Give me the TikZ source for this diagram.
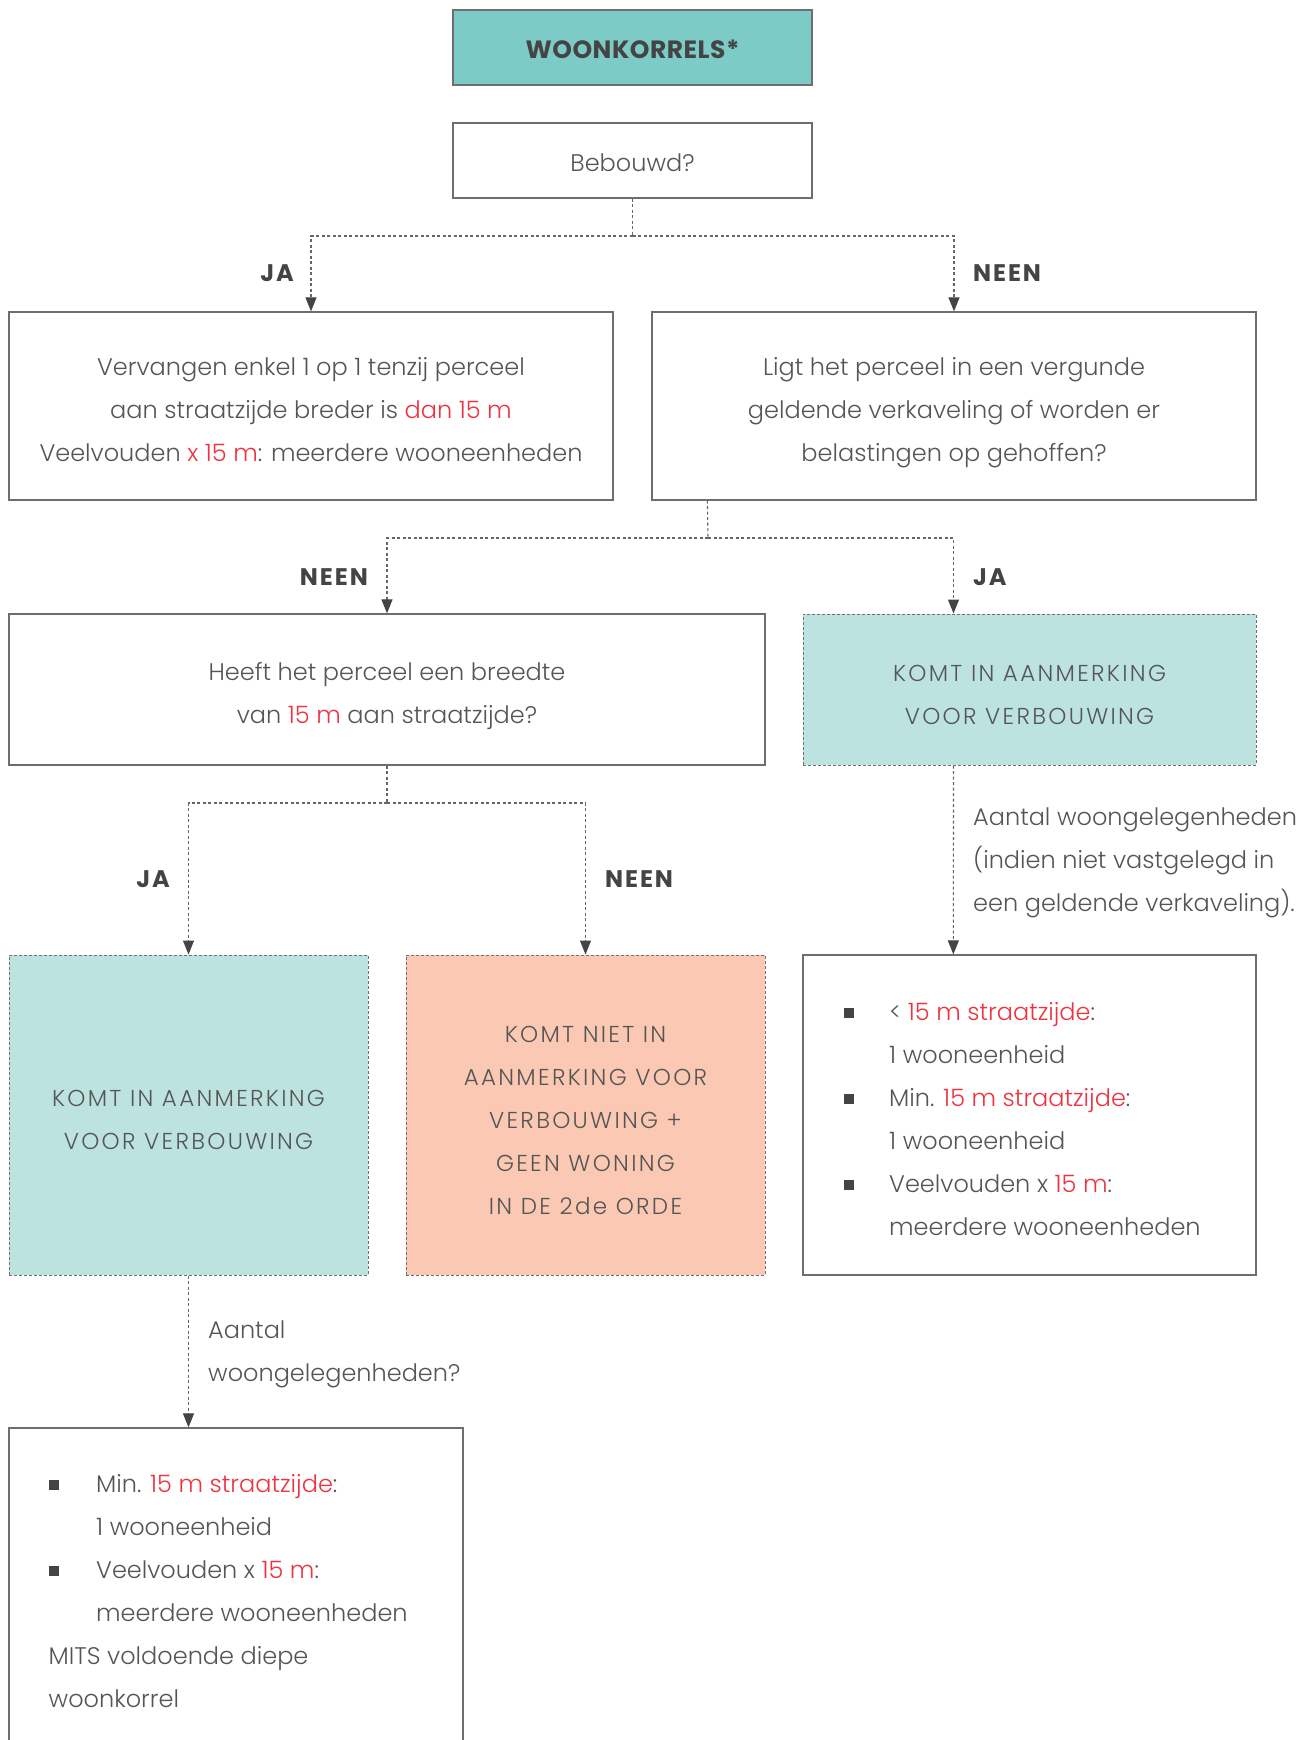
\documentclass[tikz,border=0pt]{standalone}
\usepackage{fontspec}
\IfFontExistsTF{Poppins Light}{\setmainfont{Poppins Light}}{\setmainfont{Poppins}}
\newfontfamily\labf{Poppins}
\usetikzlibrary{arrows.meta,calc}
\definecolor{tgray}{HTML}{555555}
\definecolor{lgray}{HTML}{444444}
\definecolor{bgray}{HTML}{6E6E6E}
\definecolor{dgray}{HTML}{707070}
\definecolor{cgray}{HTML}{666666}
\definecolor{agray}{HTML}{444444}
\definecolor{redc}{HTML}{EE3340}
\definecolor{headteal}{HTML}{7CCBC7}
\definecolor{lteal}{HTML}{BCE3DF}
\definecolor{mysalmon}{HTML}{FAC8B3}
\newcommand\rd[1]{\textcolor{redc}{#1}}
\newcommand\bulA{\makebox[45.5pt][l]{\textcolor{lgray}{\rule[3pt]{10pt}{10pt}}}}
\newcommand\indA{\hspace*{45.5pt}}
\newcommand\bulB{\makebox[47.5pt][l]{\textcolor{lgray}{\rule[3pt]{10pt}{10pt}}}}
\newcommand\indB{\hspace*{47.5pt}}
% centred lines; #1 = extra room above the first line (moves the text down by half of it)
\newcommand\ctab[2]{\begin{tabular}{@{}c@{}}\rule{0pt}{\dimexpr\ht\strutbox+#1\relax}#2\end{tabular}}
\begin{document}
\begin{tikzpicture}[x=1pt,y=-1pt,
  txt/.style={text=tgray, font=\fontsize{24}{43}\selectfont},
  capsf/.style={font=\fontsize{23}{43}\selectfont\addfontfeatures{LetterSpace=10}},
  solidbox/.style={draw=bgray, line width=1.3pt, inner sep=0pt, txt},
  dashbox/.style={draw=dgray, line width=1pt, dash pattern=on 3pt off 2pt, inner sep=0pt, txt, capsf},
  conn/.style={draw=cgray, line width=1.1pt, dash pattern=on 3pt off 2.5pt},
  arr/.style={conn, -{Triangle[length=14pt,width=11pt,color=agray]}},
  lab/.style={text=lgray, font=\labf\bfseries\fontsize{24}{28}\selectfont\addfontfeatures{LetterSpace=8}, inner sep=0pt}]
\useasboundingbox (0,0) rectangle (1314,1740);
\clip (0,0) rectangle (1314,1740);
\fill[white] (0,0) rectangle (1314,1740);

% boxes
\node[solidbox, fill=headteal, minimum width=359pt, minimum height=75pt,
      font=\labf\bfseries\fontsize{25}{43}\selectfont\addfontfeatures{LetterSpace=2}, text=lgray] (head) at (632.5,47.5)
  {\ctab{4.5pt}{WOONKORRELS*}};
\node[solidbox, minimum width=359pt, minimum height=75pt] (beb) at (632.5,160.5) {\ctab{4.5pt}{Bebouwd?}};
\node[solidbox, minimum width=604pt, minimum height=188pt] (verv) at (311,406)
  {\ctab{7.5pt}{Vervangen enkel 1 op 1 tenzij perceel\\aan straatzijde breder is \rd{dan 15 m}\\Veelvouden \rd{x 15 m}: meerdere wooneenheden}};
\node[solidbox, minimum width=604pt, minimum height=188pt] (ligt) at (954,406)
  {\ctab{7.5pt}{Ligt het perceel in een vergunde\\geldende verkaveling of worden er\\belastingen op gehoffen?}};
\node[solidbox, minimum width=756pt, minimum height=151pt] (heeft) at (387,689.5)
  {\ctab{8pt}{Heeft het perceel een breedte\\van \rd{15 m} aan straatzijde?}};
\node[dashbox, fill=lteal, minimum width=453pt, minimum height=151pt] (komt1) at (1029.5,689.5)
  {\ctab{9pt}{KOMT IN AANMERKING\\VOOR VERBOUWING}};
\node[dashbox, fill=lteal, minimum width=359pt, minimum height=320pt] (komt2) at (188.5,1115)
  {\ctab{9pt}{KOMT IN AANMERKING\\VOOR VERBOUWING}};
\node[dashbox, fill=mysalmon, minimum width=359pt, minimum height=320pt] (niet) at (585.5,1115)
  {\ctab{9pt}{KOMT NIET IN\\AANMERKING VOOR\\VERBOUWING +\\GEEN WONING\\IN DE 2de ORDE}};
\node[solidbox, minimum width=453pt, minimum height=320pt] (list1) at (1029.5,1115) {};
\node[solidbox, minimum width=454pt, minimum height=380pt] (list2) at (236,1618) {};

% list texts
\node[txt, align=left, anchor=west, inner sep=0pt] (list1t) at (843.5,1119.5)
  {\bulA< \rd{15 m straatzijde}:\\\indA 1 wooneenheid\\\bulA Min. \rd{15 m straatzijde}:\\\indA 1 wooneenheid\\\bulA Veelvouden x \rd{15 m}:\\\indA meerdere wooneenheden};
\node[txt, align=left, anchor=west, inner sep=0pt] (list2t) at (48.5,1591.5)
  {\bulB Min. \rd{15 m straatzijde}:\\\indB 1 wooneenheid\\\bulB Veelvouden x \rd{15 m}:\\\indB meerdere wooneenheden\\MITS voldoende diepe\\woonkorrel};

% side texts
\node[txt, align=left, anchor=west, inner sep=0pt] (a1) at (973,863)
  {Aantal woongelegenheden\\(indien niet vastgelegd in\\een geldende verkaveling).};
\node[txt, align=left, anchor=west, inner sep=0pt] (a2) at (208,1354)
  {Aantal\\woongelegenheden?};

% labels
\node[lab, anchor=east] (l1) at (294,273) {JA};
\node[lab, anchor=west] (l2) at (973,273) {NEEN};
\node[lab, anchor=east] (l3) at (368,577) {NEEN};
\node[lab, anchor=west] (l4) at (973,577) {JA};
\node[lab, anchor=east] (l5) at (170,879) {JA};
\node[lab, anchor=west] (l6) at (605,879) {NEEN};

% connectors
\coordinate (j1) at (632.5,236);
\draw[conn] (beb.south) -- (j1);
\draw[arr] (j1) -| (verv.north);
\draw[arr] (j1) -| (ligt.north);

\coordinate (s2) at ($(ligt.south west)+(56,0)$);
\coordinate (j2) at (708,538);
\coordinate (t2) at ($(komt1.north west)+(151,0)$);
\draw[conn] (s2) -- (j2);
\draw[arr] (j2) -| (heeft.north);
\draw[arr] (j2) -| (t2);

\coordinate (j3) at (387,803);
\draw[conn] (heeft.south) -- (j3);
\draw[arr] (j3) -| (komt2.north);
\draw[arr] (j3) -| (niet.north);

\coordinate (s4) at ($(komt1.south west)+(151,0)$);
\coordinate (t4) at ($(list1.north west)+(151,0)$);
\draw[arr] (s4) -- (t4);

\coordinate (t5) at (komt2.south |- list2.north);
\draw[arr] (komt2.south) -- (t5);
\end{tikzpicture}
\end{document}
